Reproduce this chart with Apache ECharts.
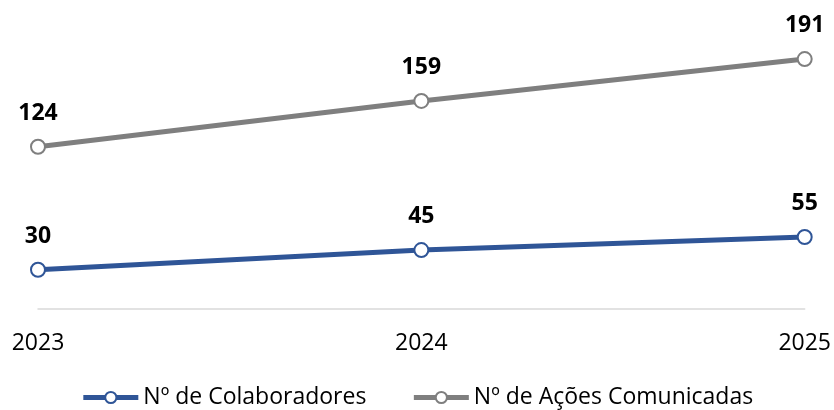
<!DOCTYPE html>
<html lang="pt">

<head>
  <meta charset="UTF-8" />
  <title>Colaboradores e Ações Comunicadas</title>
</head>

<body style="margin:0;background:#fff;">
  <div id="main" style="width: 834px; height: 410px;"></div>
  <script src="https://cdn.jsdelivr.net/npm/echarts@6/dist/echarts.min.js"></script>
  <script type="text/javascript">
    const years = ['2023', '2024', '2025']
    const colaboradores = [30, 45, 55]
    const acoes = [124, 159, 191]

    const font = 'Open Sans'
    var myChart = echarts.init(document.getElementById('main'))

    function lineSeries(name, data, color) {
      return {
        name,
        type: 'line',
        data,
        symbol: 'circle',
        symbolSize: 14,
        lineStyle: { width: 5, color },
        itemStyle: { color: '#fff', borderColor: color, borderWidth: 2 },
        label: {
          show: true,
          position: 'top',
          distance: 14,
          fontFamily: font,
          fontWeight: 'bold',
          fontSize: 23,
          color: '#000'
        }
      }
    }

    var option = {
      animation: false,
      grid: { left: 38, right: 29, top: 8, bottom: 101 },
      legend: {
        bottom: -4,
        left: 'center',
        itemWidth: 55,
        itemHeight: 14,
        itemGap: 45,
        lineStyle: { width: 5 },
        textStyle: { fontFamily: font, fontSize: 23, color: '#000' },
        data: ['Nº de Colaboradores', 'Nº de Ações Comunicadas']
      },
      xAxis: {
        type: 'category',
        data: years,
        boundaryGap: false,
        axisLine: { lineStyle: { color: '#d9d9d9', width: 1.5 } },
        axisTick: { show: false },
        axisLabel: { fontFamily: font, fontSize: 23, color: '#000', margin: 23 }
      },
      yAxis: {
        type: 'value',
        min: 0,
        max: 230,
        show: false
      },
      series: [
        lineSeries('Nº de Colaboradores', colaboradores, '#2f5597'),
        lineSeries('Nº de Ações Comunicadas', acoes, '#7f7f7f')
      ]
    }
    myChart.setOption(option)
  </script>
</body>

</html>
